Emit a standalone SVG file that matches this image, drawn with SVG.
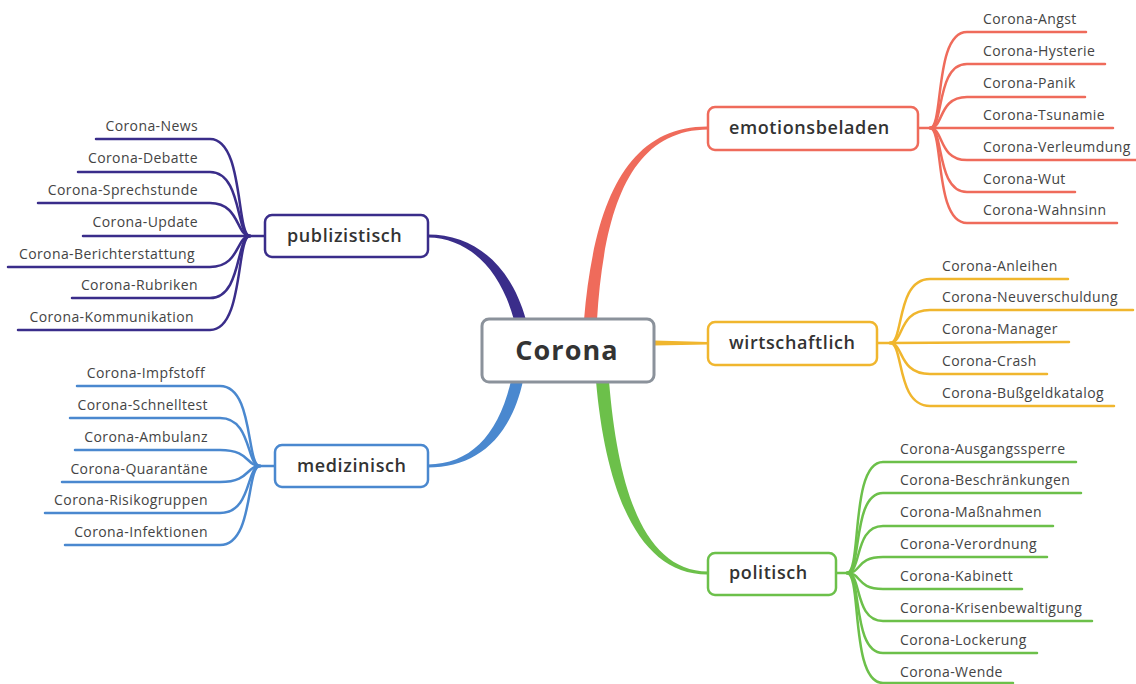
<svg xmlns="http://www.w3.org/2000/svg" width="1136" height="684" viewBox="0 0 1136 684">
<style>
.bg{fill:#ffffff}
.node{fill:#ffffff;stroke-width:2.5}
.main{fill:#ffffff;stroke:#8b929b;stroke-width:3}
.ntxt{font-family:"Open Sans","Noto Sans",sans-serif;font-size:18px;font-weight:600;letter-spacing:0.6px;fill:#333333}
.mtxt{font-family:"Open Sans","Noto Sans",sans-serif;font-size:27px;font-weight:700;letter-spacing:1.1px;fill:#333333}
.leaf{font-family:"Open Sans","Noto Sans",sans-serif;font-size:14px;letter-spacing:0.4px;fill:#444444}
.r{text-anchor:end}
.br{fill:none;stroke-width:2.5;stroke-linecap:round}
.red{stroke:#ef6b5b}.redf{fill:#ef6b5b}
.yel{stroke:#f0b62e}.yelf{fill:#f0b62e}
.grn{stroke:#6cc04a}.grnf{fill:#6cc04a}
.pur{stroke:#3a2d8a}.purf{fill:#3a2d8a}
.blu{stroke:#4a88cf}.bluf{fill:#4a88cf}
</style>
<rect class="bg" x="0" y="0" width="1136" height="684"/>
<g id="connectors">
  <path class="redf" d="M584,320 C594,200 628,126 708,126.5 L708,129.5 C632,130 604,205 597,320 Z"/>
  <path class="grnf" d="M596,381 C606,495 640,575 708,574.5 L708,571.5 C644,571 618,490 609,381 Z"/>
  <path class="purf" d="M526,320 C510,262 472,234.5 428,234.5 L428,237.5 C468,238 500,268 514,320 Z"/>
  <path class="bluf" d="M523,381 C510,440 475,467.5 428,467.5 L428,464.5 C470,464 498,436 511,381 Z"/>
  <path class="yelf" d="M654,340.5 L708,342 L708,344.5 L654,345.5 Z"/>
  <g class="br red">
    <path d="M918,128 L930,128"/>
    <path d="M930,128 C944,128 934,32 967,32 L1086,32"/>
    <path d="M930,128 C944,128 936,64 967,64 L1105,64"/>
    <path d="M930,128 C944,128 938,97 967,97 L1085,97"/>
    <path d="M930,128 L1113,128"/>
    <path d="M930,128 C944,128 938,160 967,160 L1136,160"/>
    <path d="M930,128 C944,128 936,192 967,192 L1075,192"/>
    <path d="M930,128 C944,128 934,223 967,223 L1117,223"/>
  </g>
  <g class="br yel">
    <path d="M877,343 L890,343"/>
    <path d="M890,343 C904,343 896,279 930,279 L1068,279"/>
    <path d="M890,343 C904,343 898,310 930,310 L1133,310"/>
    <path d="M890,343 L1069,342"/>
    <path d="M890,343 C904,343 898,374 930,374 L1047,374"/>
    <path d="M890,343 C904,343 896,406 930,406 L1114,406"/>
  </g>
  <g class="br grn">
    <path d="M836,573 L847,573"/>
    <path d="M847,573 C862,573 850,462 883,462 L1076,462"/>
    <path d="M847,573 C862,573 852,493 883,493 L1081,493"/>
    <path d="M847,573 C862,573 854,526 883,526 L1053,526"/>
    <path d="M847,573 C862,573 856,557 883,557 L1047,557"/>
    <path d="M847,573 C862,573 856,589 883,589 L1022,589"/>
    <path d="M847,573 C862,573 854,621 883,621 L1092,621"/>
    <path d="M847,573 C862,573 852,653 883,653 L1037,653"/>
    <path d="M847,573 C862,573 850,683 883,683 L1013,683"/>
  </g>
  <g class="br pur">
    <path d="M265,236 L250,236"/>
    <path d="M250,236 C236,236 244,139 210,139 L96,139"/>
    <path d="M250,236 C236,236 242,172 210,172 L78,172"/>
    <path d="M250,236 C236,236 240,203 210,203 L38,203"/>
    <path d="M250,236 L83,236"/>
    <path d="M250,236 C236,236 240,267 210,267 L8,267"/>
    <path d="M250,236 C236,236 242,298 210,298 L72,298"/>
    <path d="M250,236 C236,236 244,330 210,330 L18,330"/>
  </g>
  <g class="br blu">
    <path d="M275,466 L260,466"/>
    <path d="M260,466 C246,466 254,386 220,386 L77,386"/>
    <path d="M260,466 C246,466 252,418 220,418 L70,418"/>
    <path d="M260,466 C246,466 250,450 220,450 L75,450"/>
    <path d="M260,466 C246,466 250,482 220,482 L62,482"/>
    <path d="M260,466 C246,466 252,513 220,513 L45,513"/>
    <path d="M260,466 C246,466 254,545 220,545 L65,545"/>
  </g>
</g>
<g id="corona">
  <rect class="main" x="482" y="319" width="172" height="63" rx="7"/>
  <text class="mtxt" x="567" y="360" text-anchor="middle">Corona</text>
</g>
<g id="emotionsbeladen">
  <rect class="node red" x="708" y="107" width="210" height="43" rx="7"/>
  <text class="ntxt" x="729" y="134">emotionsbeladen</text>
</g>
<g id="wirtschaftlich">
  <rect class="node yel" x="708" y="322" width="169" height="43" rx="7"/>
  <text class="ntxt" x="729" y="349">wirtschaftlich</text>
</g>
<g id="politisch">
  <rect class="node grn" x="708" y="553" width="128" height="42" rx="7"/>
  <text class="ntxt" x="729" y="579">politisch</text>
</g>
<g id="publizistisch">
  <rect class="node pur" x="265" y="215" width="163" height="42" rx="7"/>
  <text class="ntxt" x="287" y="242">publizistisch</text>
</g>
<g id="medizinisch">
  <rect class="node blu" x="275" y="445" width="153" height="42" rx="7"/>
  <text class="ntxt" x="297" y="472">medizinisch</text>
</g>
<g id="leaves-emotionsbeladen">
  <text class="leaf" x="983" y="24">Corona-Angst</text>
  <text class="leaf" x="983" y="56">Corona-Hysterie</text>
  <text class="leaf" x="983" y="88">Corona-Panik</text>
  <text class="leaf" x="983" y="120">Corona-Tsunamie</text>
  <text class="leaf" x="983" y="152">Corona-Verleumdung</text>
  <text class="leaf" x="983" y="184">Corona-Wut</text>
  <text class="leaf" x="983" y="215">Corona-Wahnsinn</text>
</g>
<g id="leaves-wirtschaftlich">
  <text class="leaf" x="942" y="271">Corona-Anleihen</text>
  <text class="leaf" x="942" y="302">Corona-Neuverschuldung</text>
  <text class="leaf" x="942" y="334">Corona-Manager</text>
  <text class="leaf" x="942" y="366">Corona-Crash</text>
  <text class="leaf" x="942" y="398">Corona-Bußgeldkatalog</text>
</g>
<g id="leaves-politisch">
  <text class="leaf" x="900" y="454">Corona-Ausgangssperre</text>
  <text class="leaf" x="900" y="485">Corona-Beschränkungen</text>
  <text class="leaf" x="900" y="517">Corona-Maßnahmen</text>
  <text class="leaf" x="900" y="549">Corona-Verordnung</text>
  <text class="leaf" x="900" y="581">Corona-Kabinett</text>
  <text class="leaf" x="900" y="613">Corona-Krisenbewaltigung</text>
  <text class="leaf" x="900" y="645">Corona-Lockerung</text>
  <text class="leaf" x="900" y="677">Corona-Wende</text>
</g>
<g id="leaves-publizistisch">
  <text class="leaf r" x="198" y="131">Corona-News</text>
  <text class="leaf r" x="198" y="163">Corona-Debatte</text>
  <text class="leaf r" x="198" y="195">Corona-Sprechstunde</text>
  <text class="leaf r" x="198" y="227">Corona-Update</text>
  <text class="leaf r" x="195" y="259">Corona-Berichterstattung</text>
  <text class="leaf r" x="198" y="290">Corona-Rubriken</text>
  <text class="leaf r" x="194" y="322">Corona-Kommunikation</text>
</g>
<g id="leaves-medizinisch">
  <text class="leaf r" x="205" y="378">Corona-Impfstoff</text>
  <text class="leaf r" x="208" y="410">Corona-Schnelltest</text>
  <text class="leaf r" x="208" y="442">Corona-Ambulanz</text>
  <text class="leaf r" x="208" y="474">Corona-Quarantäne</text>
  <text class="leaf r" x="208" y="505">Corona-Risikogruppen</text>
  <text class="leaf r" x="208" y="537">Corona-Infektionen</text>
</g>
</svg>
